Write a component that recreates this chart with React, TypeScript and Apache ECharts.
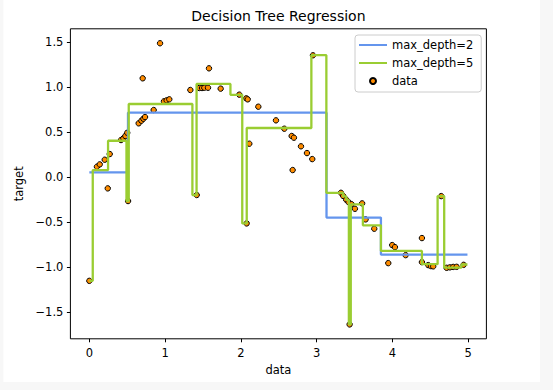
import React, { useEffect, useRef } from "react";
import * as echarts from "echarts";

const titleText = "Decision Tree Regression";
const xAxisName = "data";
const yAxisName = "target";
const seriesNames = ["max_depth=2", "max_depth=5", "data"];
const xTicks = [0, 1, 2, 3, 4, 5];
const yTicks = [-1.5, -1, -0.5, 0, 0.5, 1, 1.5];

// scatter data (x, y)
const dataX = [
  0.0, 0.1, 0.137, 0.203, 0.269, 0.243, 0.418, 0.449, 0.475, 0.5, 0.511,
  0.651, 0.687, 0.713, 0.735, 0.704, 0.849, 0.933, 0.985, 1.02, 1.055,
  1.333, 1.417, 1.451, 1.487, 1.517, 1.566, 1.579, 1.733, 1.979, 2.071,
  2.09, 2.076, 2.111, 2.23, 2.463, 2.573, 2.67, 2.7, 2.683, 2.793, 2.872,
  2.942, 2.951, 3.32, 3.35, 3.39, 3.42, 3.46, 3.505, 3.435, 3.6, 3.646,
  3.76, 3.945, 3.997, 4.033, 4.174, 4.389, 4.389, 4.473, 4.508, 4.538,
  4.644, 4.715, 4.758, 4.802, 4.847, 4.939,
];
const dataY = [
  -1.155, 0.115, 0.141, 0.193, 0.256, -0.126, 0.412, 0.431, 0.457, 0.493,
  -0.267, 0.598, 0.627, 0.649, 0.668, 1.099, 0.746, 1.489, 0.843, 0.854,
  0.865, 0.969, -0.2, 0.991, 0.991, 0.994, 0.994, 1.21, 0.984, 0.917,
  0.876, 0.865, -0.516, 0.371, 0.783, 0.631, 0.538, 0.457, 0.438, 0.078,
  0.342, 0.267, 0.2, 1.355, -0.175, -0.21, -0.252, -0.278, -0.302,
  -0.353, -1.64, -0.293, -0.471, -0.575, -0.958, -0.757, -0.78, -0.869,
  -0.679, -0.947, -0.98, -0.991, -0.994, -0.212, -1.01, -1.005, -1.0,
  -0.999, -0.977,
];

// decision tree predictions: piece starts and values
const depth2Edges = [0, 0.51, 3.13, 3.848, 4.99];
const depth2Values = [0.052, 0.716, -0.451, -0.863];

const depth5Edges = [
  0, 0.045, 0.247, 0.49, 0.52, 1.36, 1.415, 1.862, 2.018, 2.077, 2.93,
  3.128, 3.35, 3.39, 3.425, 3.45, 3.61, 3.848, 4.389, 4.596, 4.683, 4.91,
  4.99,
];
const depth5Values = [
  -1.155, 0.078, 0.404, -0.267, 0.813, -0.2, 1.036, 0.915, -0.516, 0.546,
  1.357, -0.175, -0.215, -0.255, -1.64, -0.305, -0.537, -0.822, -0.97,
  -0.212, -1.008, -0.973,
];

function stepData(edges: number[], values: number[]) {
  const pts: number[][] = values.map((v, i) => [edges[i], v]);
  pts.push([edges[edges.length - 1], values[values.length - 1]]);
  return pts;
}

const FONT = "DejaVu Sans";

export default function App() {
  const ref = useRef<HTMLDivElement>(null);
  useEffect(() => {
    if (!ref.current) return;
    const chart = echarts.init(ref.current, undefined, { renderer: "svg" });
    const fmtY = (v: number) => v.toFixed(1).replace("-", "\u2212");
    chart.setOption({
      animation: false,
      backgroundColor: "#f7f7f7",
      textStyle: { fontFamily: FONT },
      graphic: [
        {
          type: "rect",
          z: -10,
          silent: true,
          shape: { x: 3.4, y: 0, width: 536.6, height: 382 },
          style: { fill: "#ffffff" },
        },
      ],
      title: {
        text: titleText,
        left: 278.4,
        top: 9,
        padding: 0,
        textAlign: "center",
        textStyle: { fontFamily: FONT, fontSize: 14, fontWeight: "normal", color: "#000" },
      },
      legend: {
        orient: "vertical",
        left: 355,
        top: 35,
        padding: [4, 8, 5, 4],
        itemWidth: 28,
        itemHeight: 6,
        itemGap: 6,
        borderColor: "#cccccc",
        borderWidth: 1,
        borderRadius: 3,
        backgroundColor: "rgba(255,255,255,0.8)",
        textStyle: { fontFamily: FONT, fontSize: 11.5, color: "#000" },
        data: [
          { name: seriesNames[0], icon: "path://M0 0H28V2H0Z" },
          { name: seriesNames[1], icon: "path://M0 0H28V2H0Z" },
          { name: seriesNames[2], icon: "circle" },
        ],
      },
      grid: {
        left: 70.4,
        top: 28.8,
        width: 416,
        height: 310,
        show: true,
        borderColor: "#000",
        borderWidth: 1,
        backgroundColor: "transparent",
      },
      xAxis: {
        type: "value",
        min: -0.25,
        max: 5.24,
        name: xAxisName,
        nameLocation: "middle",
        nameGap: 25,
        nameTextStyle: { fontFamily: FONT, fontSize: 11.5, color: "#000" },
        axisLine: { show: false, onZero: false },
        splitLine: { show: false },
        axisTick: {
          show: true,
          length: 3.5,
          lineStyle: { color: "#000", width: 1 },
          customValues: xTicks,
        },
        axisLabel: {
          fontFamily: FONT,
          fontSize: 11.5,
          color: "#000",
          margin: 8,
          customValues: xTicks,
          formatter: (v: number) => String(v),
        },
      },
      yAxis: {
        type: "value",
        min: -1.8,
        max: 1.65,
        name: yAxisName,
        nameLocation: "middle",
        nameGap: 42,
        nameTextStyle: { fontFamily: FONT, fontSize: 11.5, color: "#000" },
        axisLine: { show: false, onZero: false },
        splitLine: { show: false },
        axisTick: {
          show: true,
          length: 3.5,
          lineStyle: { color: "#000", width: 1 },
          customValues: yTicks,
        },
        axisLabel: {
          fontFamily: FONT,
          fontSize: 11.5,
          color: "#000",
          margin: 7,
          customValues: yTicks,
          formatter: fmtY,
        },
      },
      series: [
        {
          name: seriesNames[2],
          type: "scatter",
          symbol: "circle",
          symbolSize: 5.4,
          data: dataX.map((x, i) => [x, dataY[i]]),
          itemStyle: { color: "#ff8c00", borderColor: "#000", borderWidth: 1, opacity: 1 },
          silent: true,
        },
        {
          name: seriesNames[0],
          type: "line",
          step: "end",
          symbol: "none",
          showSymbol: false,
          data: stepData(depth2Edges, depth2Values),
          lineStyle: { color: "#6495ed", width: 2.3 },
          itemStyle: { color: "#6495ed" },
          silent: true,
        },
        {
          name: seriesNames[1],
          type: "line",
          step: "end",
          symbol: "none",
          showSymbol: false,
          data: stepData(depth5Edges, depth5Values),
          lineStyle: { color: "#9acd32", width: 2.3 },
          itemStyle: { color: "#9acd32" },
          silent: true,
        },
      ],
    });
    return () => chart.dispose();
  }, []);
  return (
    <div style={{ position: "fixed", left: 0, top: 0, width: 553, height: 390, background: "#f7f7f7" }}>
      <div ref={ref} style={{ width: 553, height: 390 }} />
    </div>
  );
}
